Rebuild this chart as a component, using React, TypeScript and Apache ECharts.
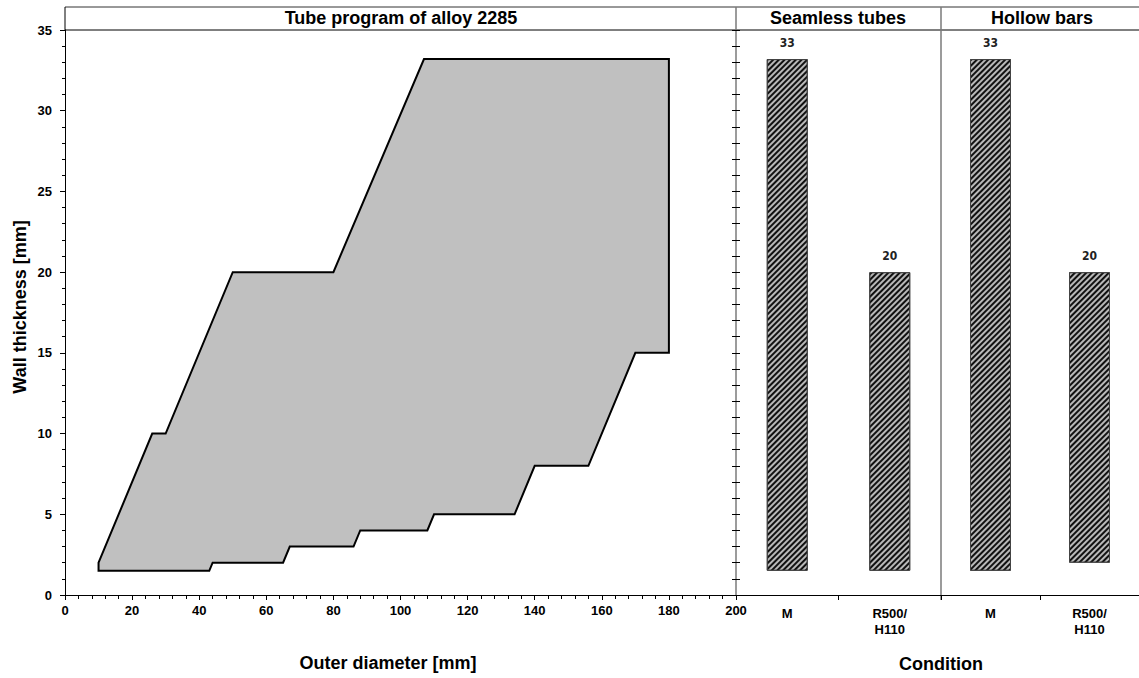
import React, { useEffect, useRef } from "react";
import * as echarts from "echarts";

// Tube program envelope (outer diameter [mm], wall thickness [mm])
const polyX = [10, 10, 26, 30, 50, 80, 107, 180, 180, 170, 156, 140, 134, 110, 108, 88, 86, 67, 65, 44, 43];
const polyY = [1.5, 2, 10, 10, 20, 20, 33.2, 33.2, 15, 15, 8, 8, 5, 5, 4, 4, 3, 3, 2, 2, 1.5];

// Condition categories
const conditions = ["M", "R500/\nH110"];
// Seamless tubes: wall thickness range
const seamlessBottom = [1.5, 1.5];
const seamlessTop = [33.2, 20];
// Hollow bars: wall thickness range
const hollowBottom = [1.5, 2];
const hollowTop = [33.2, 20];

const xTickInterval = 20;
const yTickInterval = 5;

const FONT = '"Liberation Sans", Arial, sans-serif';

export default function App() {
  const ref = useRef<HTMLDivElement>(null);

  useEffect(() => {
    if (!ref.current) return;
    const chart = echarts.init(ref.current, undefined, { renderer: "svg" });

    const tickLabel = { fontFamily: FONT, fontWeight: "bold", fontSize: 13, color: "#000" };

    const decal = {
      symbol: "rect",
      symbolSize: 1,
      color: "#111",
      dashArrayX: [1, 0],
      dashArrayY: [2, 1.4],
      rotation: -Math.PI / 4,
    };

    const rangeBars = (xi: number, yi: number, stack: string, bottom: number[], top: number[]) => [
      {
        type: "bar",
        xAxisIndex: xi,
        yAxisIndex: yi,
        stack,
        data: bottom,
        barWidth: 41,
        silent: true,
        itemStyle: { color: "rgba(0,0,0,0)" },
      },
      {
        type: "bar",
        xAxisIndex: xi,
        yAxisIndex: yi,
        stack,
        data: top.map((t, i) => +(t - bottom[i]).toFixed(2)),
        barWidth: 41,
        itemStyle: { color: "#b8b8b8", borderColor: "#444", borderWidth: 1, decal },
        label: {
          show: true,
          position: "top",
          distance: 10,
          formatter: (p: any) => String(Math.round(top[p.dataIndex])),
          fontFamily: '"DejaVu Sans Condensed", "DejaVu Sans", sans-serif',
          fontWeight: "bold",
          fontSize: 12,
          color: "#222",
        },
      },
    ];

    const option: any = {
      animation: false,
      backgroundColor: "#fff",
      grid: [
        { left: 65, top: 30, width: 671, height: 565 },
        { left: 736, top: 30, width: 205, height: 565 },
        { left: 941, top: 30, width: 205, height: 565 },
      ],
      xAxis: [
        {
          type: "value",
          gridIndex: 0,
          min: 0,
          max: 200,
          interval: xTickInterval,
          axisLine: { show: true, lineStyle: { color: "#000", width: 1 } },
          axisTick: { show: true, length: 5, lineStyle: { color: "#000" } },
          minorTick: { show: true, splitNumber: 5, length: 4, lineStyle: { color: "#000" } },
          splitLine: { show: false },
          axisLabel: { ...tickLabel, margin: 9 },
        },
        {
          type: "category",
          gridIndex: 1,
          data: conditions,
          axisLine: { show: true, lineStyle: { color: "#000", width: 1 } },
          axisTick: { show: true, length: 5, lineStyle: { color: "#000" } },
          axisLabel: { ...tickLabel, margin: 10, lineHeight: 16 },
        },
        {
          type: "category",
          gridIndex: 2,
          data: conditions,
          axisLine: { show: true, lineStyle: { color: "#000", width: 1 } },
          axisTick: { show: true, length: 5, lineStyle: { color: "#000" } },
          axisLabel: { ...tickLabel, margin: 10, lineHeight: 16 },
        },
      ],
      yAxis: [
        {
          type: "value",
          gridIndex: 0,
          min: 0,
          max: 35,
          interval: yTickInterval,
          axisLine: { show: true, lineStyle: { color: "#000", width: 1 } },
          axisTick: { show: true, length: 5, lineStyle: { color: "#000" } },
          minorTick: { show: true, splitNumber: 5, length: 3, lineStyle: { color: "#000" } },
          splitLine: { show: false },
          axisLabel: { ...tickLabel, margin: 13 },
        },
        {
          type: "value",
          gridIndex: 1,
          min: 0,
          max: 35,
          interval: 1,
          axisLine: { show: true, lineStyle: { color: "#7a7a7a", width: 1.5 } },
          axisTick: { show: true, length: 4, lineStyle: { color: "#000" } },
          splitLine: { show: false },
          axisLabel: { show: false },
        },
        {
          type: "value",
          gridIndex: 1,
          min: 0,
          max: 35,
          interval: 1,
          position: "left",
          offset: 0,
          axisLine: { show: false },
          axisTick: { show: true, inside: true, length: 4, lineStyle: { color: "#000" } },
          splitLine: { show: false },
          axisLabel: { show: false },
        },
        {
          type: "value",
          gridIndex: 2,
          min: 0,
          max: 35,
          show: false,
        },
      ],
      series: [
        {
          type: "custom",
          xAxisIndex: 0,
          yAxisIndex: 0,
          clip: false,
          data: [[polyX[0], polyY[0]]],
          renderItem: (_params: any, api: any) => ({
            type: "polygon",
            shape: { points: polyX.map((x, i) => api.coord([x, polyY[i]])) },
            style: { fill: "#c0c0c0", stroke: "#000", lineWidth: 2, lineJoin: "miter" },
          }),
        },
        ...rangeBars(1, 1, "seamless", seamlessBottom, seamlessTop),
        ...rangeBars(2, 3, "hollow", hollowBottom, hollowTop),
      ],
      graphic: [
        { type: "line", shape: { x1: 65, y1: 7, x2: 1139, y2: 7 }, style: { stroke: "#333", lineWidth: 1 } },
        { type: "line", shape: { x1: 65, y1: 30, x2: 1139, y2: 30 }, style: { stroke: "#000", lineWidth: 1 } },
        { type: "line", shape: { x1: 65, y1: 7, x2: 65, y2: 30 }, style: { stroke: "#000", lineWidth: 1 } },
        { type: "line", shape: { x1: 736, y1: 7, x2: 736, y2: 30 }, style: { stroke: "#7a7a7a", lineWidth: 1.5 } },
        { type: "line", shape: { x1: 941, y1: 7, x2: 941, y2: 600 }, style: { stroke: "#7a7a7a", lineWidth: 1.5 } },
        {
          type: "text",
          x: 401,
          y: 18,
          style: { text: "Tube program of alloy 2285", font: `bold 18px ${FONT}`, fill: "#000", align: "center", verticalAlign: "middle" },
        },
        {
          type: "text",
          x: 838,
          y: 18,
          style: { text: "Seamless tubes", font: `bold 18px ${FONT}`, fill: "#000", align: "center", verticalAlign: "middle" },
        },
        {
          type: "text",
          x: 1042,
          y: 18,
          style: { text: "Hollow bars", font: `bold 18px ${FONT}`, fill: "#000", align: "center", verticalAlign: "middle" },
        },
        {
          type: "text",
          x: 388,
          y: 663,
          style: { text: "Outer diameter [mm]", font: `bold 18px ${FONT}`, fill: "#000", align: "center", verticalAlign: "middle" },
        },
        {
          type: "text",
          x: 941,
          y: 664,
          style: { text: "Condition", font: `bold 18px ${FONT}`, fill: "#000", align: "center", verticalAlign: "middle" },
        },
        {
          type: "text",
          x: 20,
          y: 307,
          rotation: Math.PI / 2,
          style: { text: "Wall thickness [mm]", font: `bold 18px ${FONT}`, fill: "#000", align: "center", verticalAlign: "middle" },
        },
      ],
    };

    chart.setOption(option);
    return () => chart.dispose();
  }, []);

  return (
    <div
      ref={ref}
      style={{ position: "fixed", left: 0, top: 0, width: 1139, height: 678, background: "#fff" }}
    />
  );
}
